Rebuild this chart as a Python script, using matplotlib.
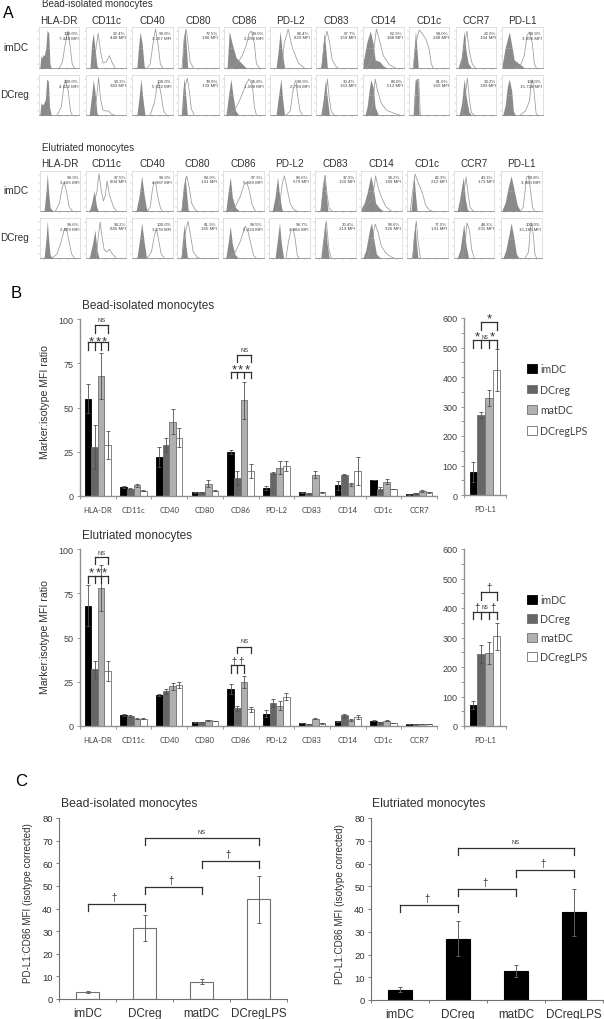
#!/usr/bin/env python3
import numpy as np
import matplotlib
matplotlib.use('Agg')
import matplotlib.pyplot as plt
from matplotlib.patches import Patch

W, H = 604, 1020
plt.rcParams['font.family'] = ['Liberation Sans', 'DejaVu Sans']

markers = ['HLA-DR', 'CD11c', 'CD40', 'CD80', 'CD86', 'PD-L2', 'CD83', 'CD14', 'CD1c', 'CCR7', 'PD-L1']
groups = ['imDC', 'DCreg', 'matDC', 'DCregLPS']
bar_colors = ['#000000', '#666666', '#b0b0b0', '#ffffff']

# panel A: percent and MFI labels
bead_im_lab = ['100.0%\n7,448 MFI', '92.4%\n448 MFI', '99.8%\n3,257 MFI', '72.5%\n180 MFI', '98.0%\n2,290 MFI', '84.4%\n829 MFI',
               '57.7%\n159 MFI', '62.9%\n388 MFI', '94.0%\n248 MFI', '23.9%\n164 MFI', '99.9%\n3,996 MFI']
bead_reg_lab = ['100.0%\n4,822 MFI', '90.3%\n383 MFI', '100.0%\n5,622 MFI', '78.9%\n139 MFI', '96.8%\n1,568 MFI', '99.9%\n2,794 MFI',
                '30.4%\n163 MFI', '88.0%\n512 MFI', '81.6%\n169 MFI', '33.2%\n183 MFI', '100.0%\n15,738 MFI']
elu_im_lab = ['99.9%\n3,565 MFI', '97.5%\n804 MFI', '99.9%\n4,987 MFI', '69.9%\n141 MFI', '97.3%\n5,689 MFI', '89.6%\n579 MFI',
              '37.5%\n155 MFI', '34.2%\n189 MFI', '82.3%\n212 MFI', '40.3%\n173 MFI', '99.8%\n3,860 MFI']
elu_reg_lab = ['99.6%\n2,829 MFI', '98.2%\n845 MFI', '100.0%\n3,578 MFI', '81.9%\n165 MFI', '99.5%\n5,434 MFI', '99.7%\n2,884 MFI',
               '30.4%\n219 MFI', '58.6%\n326 MFI', '77.5%\n141 MFI', '48.3%\n231 MFI', '100.0%\n15,185 MFI']

# panel A: histogram outlines, (x, height) as fractions of each small plot
bead_im_iso = [
    [(.02,0),(.05,.3),(.08,.25),(.1,.33),(.13,.3),(.17,.5),(.2,.92),(.24,.85),(.27,.1),(.3,0)],
    [(.1,0),(.14,.6),(.18,.85),(.22,.5),(.27,.05),(.3,0)],
    [(.12,0),(.16,.5),(.2,.88),(.25,.6),(.3,.05),(.33,0)],
    [(.1,0),(.13,.6),(.17,.95),(.2,.6),(.24,0)],
    [(.08,.05),(.13,.9),(.2,.6),(.3,.25),(.45,.1),(.55,0)],
    [(.15,0),(.2,.4),(.25,.9),(.3,.4),(.36,0)],
    [(.12,0),(.16,.4),(.2,.85),(.24,.5),(.28,0)],
    [(0,.12),(.1,.65),(.18,.9),(.25,.6),(.3,.2),(.42,.15),(.5,.05),(.6,0)],
    [(.1,0),(.13,.5),(.16,.9),(.2,.4),(.23,0)],
    [(.05,0),(.13,.25),(.2,.9),(.25,.4),(.3,.12),(.38,0)],
    [(0,.05),(.08,.5),(.18,.88),(.25,.5),(.3,.2),(.4,.12),(.5,.05),(.55,0)],
]
bead_im_stain = [
    [(.5,0),(.58,.15),(.65,.6),(.71,.9),(.76,.6),(.82,.1),(.87,0)],
    [(.18,0),(.25,.5),(.3,.85),(.36,.4),(.42,.12),(.5,.15),(.58,.3),(.65,.12),(.72,0)],
    [(.38,0),(.45,.1),(.52,.6),(.58,.95),(.64,.6),(.7,.1),(.76,0)],
    [(.1,0),(.15,.7),(.2,.95),(.25,.6),(.3,.15),(.38,0)],
    [(.1,0),(.3,.08),(.45,.3),(.55,.55),(.62,.85),(.68,.9),(.75,.6),(.8,.1),(.88,0)],
    [(.25,0),(.3,.1),(.35,.6),(.45,.95),(.55,.5),(.7,.12),(.85,0)],
    [(.14,0),(.2,.6),(.27,.9),(.33,.65),(.4,.2),(.5,.03),(.55,0)],
    [(.1,0),(.25,.3),(.3,.7),(.33,.95),(.4,.7),(.5,.3),(.65,.08),(.8,0)],
    [(.1,0),(.17,.6),(.25,.93),(.32,.85),(.42,.7),(.5,.45),(.55,.1),(.6,0)],
    [(.12,0),(.2,.5),(.27,.9),(.33,.4),(.4,.1),(.48,0)],
    [(.3,0),(.45,.05),(.55,.3),(.62,.8),(.68,.88),(.75,.6),(.8,.1),(.85,0)],
]
bead_reg_iso = [
    [(.02,0),(.05,.3),(.09,.25),(.12,.3),(.16,.4),(.19,.9),(.23,.85),(.26,.2),(.3,0)],
    [(.08,0),(.14,.5),(.18,.88),(.22,.6),(.27,.05),(.3,0)],
    [(.12,0),(.17,.4),(.22,.9),(.27,.4),(.32,0)],
    [(.08,0),(.12,.6),(.15,.92),(.19,.5),(.23,0)],
    [(.05,0),(.12,.55),(.17,.9),(.22,.5),(.28,.12),(.36,0)],
    [(.15,0),(.2,.4),(.27,.9),(.31,.4),(.36,0)],
    [(.12,0),(.18,.4),(.23,.85),(.27,.5),(.33,0)],
    [(.05,0),(.1,.2),(.15,.6),(.19,.88),(.25,.7),(.3,.2),(.38,0)],
    [(.1,0),(.14,.7),(.18,.92),(.22,.85),(.25,0)],
    [(.08,0),(.14,.3),(.2,.9),(.26,.4),(.32,.08),(.38,0)],
    [(.02,0),(.08,.25),(.13,.7),(.18,.9),(.24,.6),(.28,.1),(.33,0)],
]
bead_reg_stain = [
    [(.45,0),(.55,.2),(.62,.75),(.66,.88),(.72,.6),(.78,.1),(.82,0)],
    [(.2,0),(.27,.5),(.31,.93),(.36,.4),(.42,.12),(.5,.1),(.56,.1),(.62,.03),(.7,0)],
    [(.45,0),(.55,.3),(.62,.72),(.66,.8),(.72,.5),(.78,.1),(.85,0)],
    [(.12,0),(.17,.7),(.23,.92),(.28,.6),(.33,.15),(.4,0)],
    [(.1,0),(.25,.1),(.38,.35),(.48,.6),(.55,.78),(.62,.9),(.7,.75),(.75,.2),(.8,0)],
    [(.4,0),(.5,.1),(.56,.55),(.6,.78),(.64,.88),(.68,.5),(.74,.1),(.8,0)],
    [(.17,0),(.24,.4),(.28,.9),(.33,.4),(.38,.08),(.45,0)],
    [(.15,0),(.25,.3),(.3,.9),(.36,.6),(.45,.3),(.58,.12),(.75,.05),(.9,0)],
    [(.14,0),(.17,.85),(.24,.9),(.28,0)],
    [(.15,0),(.23,.5),(.28,.92),(.33,.4),(.38,.06),(.45,0)],
    [(.45,0),(.58,.1),(.68,.35),(.72,.8),(.76,.88),(.8,.5),(.84,.05),(.88,0)],
]
elu_im_iso = [
    [(.1,0),(.15,.5),(.18,.93),(.21,.5),(.25,.08),(.32,0)],
    [(.08,0),(.14,.2),(.2,.5),(.26,.12),(.3,0)],
    [(.1,0),(.18,.4),(.24,.88),(.3,.4),(.36,.05),(.4,0)],
    [(.1,0),(.15,.5),(.2,.88),(.24,.4),(.28,0)],
    [(.07,0),(.13,.5),(.18,.85),(.23,.35),(.3,.1),(.4,0)],
    [(.08,0),(.15,.35),(.21,.85),(.26,.4),(.32,.03),(.36,0)],
    [(.12,0),(.18,.5),(.23,.9),(.27,.5),(.32,0)],
    [(0,.05),(.08,.2),(.15,.45),(.24,.88),(.3,.6),(.36,.2),(.45,.08),(.55,0)],
    [(.1,0),(.14,.5),(.17,.9),(.21,.4),(.25,0)],
    [(.08,0),(.14,.3),(.23,.85),(.28,.3),(.33,.04),(.38,0)],
    [(.02,0),(.1,.2),(.18,.6),(.25,.88),(.32,.55),(.4,.15),(.48,0)],
]
elu_im_stain = [
    [(.38,0),(.48,.2),(.55,.6),(.6,.72),(.65,.5),(.72,.1),(.8,0)],
    [(.1,0),(.2,.15),(.27,.5),(.32,.93),(.38,.5),(.43,.25),(.48,.4),(.52,.75),(.58,.4),(.68,.1),(.75,0)],
    [(.38,0),(.45,.1),(.5,.5),(.54,.7),(.58,.72),(.63,.4),(.7,.08),(.75,0)],
    [(.12,0),(.18,.6),(.24,.88),(.3,.6),(.36,.2),(.45,.03),(.5,0)],
    [(.15,0),(.3,.1),(.42,.35),(.52,.65),(.58,.72),(.64,.55),(.72,.15),(.8,0)],
    [(.2,0),(.28,.3),(.33,.7),(.38,.88),(.44,.6),(.52,.2),(.6,.05),(.68,0)],
    [(.15,0),(.2,.6),(.25,.9),(.3,.4),(.35,.07),(.42,0)],
    [(.05,0),(.15,.15),(.28,.3),(.34,.7),(.36,.88),(.42,.6),(.5,.35),(.62,.1),(.75,0)],
    [(.08,0),(.14,.5),(.2,.92),(.28,.7),(.38,.45),(.46,.15),(.55,.02),(.62,0)],
    [(.15,0),(.25,.5),(.3,.85),(.35,.4),(.4,.08),(.48,0)],
    [(.48,0),(.55,.1),(.6,.55),(.63,.85),(.68,.88),(.73,.5),(.78,.08),(.83,0)],
]
elu_reg_iso = [
    [(.1,0),(.15,.5),(.18,.93),(.21,.5),(.25,.08),(.3,0)],
    [(.08,0),(.16,.35),(.22,.7),(.27,.2),(.32,0)],
    [(.12,0),(.18,.4),(.24,.88),(.3,.4),(.36,0)],
    [(.1,0),(.14,.5),(.18,.85),(.22,.3),(.26,0)],
    [(.07,0),(.13,.4),(.18,.8),(.23,.35),(.3,.08),(.38,0)],
    [(.15,0),(.2,.4),(.26,.88),(.3,.4),(.36,0)],
    [(.14,0),(.2,.5),(.25,.92),(.3,.35),(.35,0)],
    [(.05,0),(.12,.2),(.22,.75),(.26,.88),(.32,.45),(.38,.1),(.48,0)],
    [(.12,0),(.16,.5),(.2,.9),(.23,.4),(.27,0)],
    [(.08,0),(.15,.2),(.24,.85),(.3,.3),(.36,0)],
    [(.05,0),(.12,.2),(.2,.6),(.25,.88),(.31,.55),(.38,.1),(.44,0)],
]
elu_reg_stain = [
    [(.3,0),(.42,.1),(.52,.4),(.6,.72),(.65,.75),(.7,.5),(.78,.1),(.85,0)],
    [(.25,0),(.3,.5),(.35,.9),(.4,.5),(.45,.2),(.52,.15),(.58,.22),(.65,.1),(.75,0)],
    [(.38,0),(.48,.15),(.55,.55),(.6,.72),(.65,.5),(.72,.1),(.8,0)],
    [(.12,0),(.2,.6),(.27,.92),(.33,.6),(.4,.15),(.5,.02),(.55,0)],
    [(.12,0),(.28,.1),(.42,.4),(.5,.65),(.55,.8),(.62,.65),(.7,.3),(.76,.05),(.82,0)],
    [(.42,0),(.48,.4),(.55,.72),(.6,.72),(.65,.45),(.7,.05),(.75,0)],
    [(.18,0),(.24,.6),(.28,.92),(.34,.25),(.4,0)],
    [(.15,0),(.25,.25),(.32,.7),(.35,.85),(.42,.65),(.5,.3),(.62,.12),(.75,.02),(.82,0)],
    [(.14,0),(.18,.5),(.23,.92),(.27,.45),(.33,0)],
    [(.2,0),(.28,.4),(.32,.88),(.38,.7),(.44,.2),(.5,0)],
    [(.6,0),(.68,.15),(.72,.7),(.76,.88),(.8,.55),(.84,.08),(.88,0)],
]

# panel B: marker:isotype MFI ratio, one row per marker, columns follow groups
bead_ratio = [[55, 27.5, 68, 29], [5, 4, 6, 3], [22, 29, 42, 33], [2, 2, 7, 3], [25, 10, 54, 14],
              [4.5, 13, 16, 17], [2, 1.5, 12, 2], [6, 12, 6.5, 14], [9, 4, 8, 4], [1, 1.5, 3, 2]]
bead_ratio_err = [[8, 12.5, 13, 8], [.4, .3, 1, .2], [5.5, 4, 7, 5.5], [.2, .2, 2, .2], [1, 4, 10.5, 4],
                  [1, .5, 3.5, 3], [.2, .2, 2, .2], [2.5, .2, .8, 8], [.2, 1, 1.5, .2], [.2, .2, .5, .2]]
bead_pdl1 = [78, 270, 330, 424]
bead_pdl1_err = [35, 10, 27, 70]

elu_ratio = [[68, 32, 78, 31], [6, 5.5, 4.2, 4], [17.5, 19.5, 22.5, 23], [2, 2.2, 3.2, 2.8], [21, 10, 25, 9.5],
             [7, 13, 11.5, 16.5], [1.7, 1.3, 4, 1.5], [2.7, 6, 3.5, 5], [3, 2, 3, 1.8], [1.2, 1.2, 1.3, 1.2]]
elu_ratio_err = [[11.5, 5, 13, 5.5], [.5, .5, .3, .3], [.8, 1.5, 2, 1.8], [.1, .1, .2, .2], [3, 1.5, 3.5, 1.5],
                 [2, 2, 2.5, 2], [.1, .1, .3, .1], [.2, 1, .5, 1], [.2, .1, .2, .1], [.1, .1, .1, .1]]
elu_pdl1 = [71, 244, 247, 304]
elu_pdl1_err = [13, 32, 38, 45]

# panel C: PD-L1:CD86 MFI
bead_c = [3.2, 31.3, 7.7, 44]
bead_c_err = [.4, 5.8, 1, 10.3]
elu_c = [4.5, 27, 12.8, 38.5]
elu_c_err = [1.2, 7.7, 2.7, 10.5]

DAG = '\u2020'
fig = plt.figure(figsize=(W / 100, H / 100), dpi=100)


def axpx(l, t, r, b):
    return fig.add_axes([l / W, 1 - b / H, (r - l) / W, (b - t) / H])


def txt(x, y, s, size, ha='left', color='#303030', **kw):
    fig.text(x / W, 1 - y / H, s, fontsize=size, ha=ha, va='center', color=color, **kw)


def flow(l, t, r, b, iso, stain, label):
    ax = axpx(l, t, r, b)
    ix, iy = zip(*iso)
    sx, sy = zip(*stain)
    ax.fill_between(ix, iy, color='#8a8a8a', lw=0)
    ax.plot(sx, sy, color='#9a9a9a', lw=.55)
    ax.plot([.1, 1], [.5, .5], color='#d8d8d8', lw=.4, ls=':')
    ax.set_xlim(0, 1)
    ax.set_ylim(0, 1)
    ax.set_xticks([.1, .3, .5, .7, .9])
    ax.set_yticks([.1, .3, .5, .7, .9])
    ax.tick_params(length=1.2, width=.3, color='#aaaaaa', labelbottom=False, labelleft=False)
    for s in ['top', 'right', 'left']:
        ax.spines[s].set_color('#c8c8c8')
        ax.spines[s].set_linewidth(.4)
    ax.spines['bottom'].set_color('#777777')
    ax.spines['bottom'].set_linewidth(.5)
    ax.text(.98, .8, label, transform=ax.transAxes, fontsize=3.2, ha='right', va='center', color='#404040', linespacing=1.1)


def flow_block(xl, rows, head_y, label_y):
    for i, m in enumerate(markers):
        l = xl[i]
        txt(l + 20, head_y, m, 7.2, ha='center')
        for (t, b, iso, stain, lab) in rows:
            flow(l, t, l + 40.5, b, iso[i], stain[i], lab[i])
    txt(29, label_y[0], 'imDC', 7.2, ha='right')
    txt(29, label_y[1], 'DCreg', 7.2, ha='right')


def bracket(ax, x0, x1, top, bottom, teeth=None, lw=.9):
    xs = teeth if teeth is not None else [x0, x1]
    ax.plot([x0, x1], [top, top], color='#303030', lw=lw, solid_capstyle='projecting', clip_on=False)
    for x in xs:
        ax.plot([x, x], [top, bottom], color='#303030', lw=lw, clip_on=False)


def mark(ax, x, y, s, size=7):
    ax.text(x, y, s, fontsize=size, ha='center', va='center', color='#303030', clip_on=False)


def bars_b(ax, vals, errs, w=.185):
    vals = np.array(vals)
    errs = np.array(errs)
    x = np.arange(vals.shape[0])
    centers = []
    for j in range(4):
        off = (j - 1.5) * w
        ax.bar(x + off, vals[:, j], w, color=bar_colors[j], edgecolor='#707070' if j else '#000000', lw=.6)
        ax.errorbar(x + off, vals[:, j], yerr=errs[:, j], fmt='none', ecolor='#505050', elinewidth=.6, capsize=1.4, capthick=.6)
        centers.append(x + off)
    return np.array(centers).T


def style_b(ax, labels, ymax, major, minor=None):
    n = len(labels)
    ax.set_xlim(-.5, n - .5)
    ax.set_ylim(0, ymax)
    ax.set_yticks(np.arange(0, ymax + 1, major))
    if minor:
        ax.set_yticks(np.arange(0, ymax + 1, minor), minor=True)
    ax.set_xticks(np.arange(n + 1) - .5)
    ax.set_xticklabels([])
    ax.set_xticks(np.arange(n), minor=True)
    ax.set_xticklabels(labels, minor=True, fontsize=5.6, color='#404040', family=['Lato', 'DejaVu Sans'])
    ax.tick_params(axis='x', which='minor', length=0, pad=7)
    ax.tick_params(axis='x', which='major', length=2.5, width=.6, color='#888888')
    ax.tick_params(axis='y', which='both', length=2.5, width=.6, color='#888888', labelsize=6.5, labelcolor='#404040', pad=2)
    for s in ['top', 'right']:
        ax.spines[s].set_visible(False)
    for s in ['left', 'bottom']:
        ax.spines[s].set_color('#909090')
        ax.spines[s].set_linewidth(1.0)


def comb(ax, c, top, bottom, up_top, up_bottom, up_y, up_label, signs, sign_y, n_teeth=4):
    bracket(ax, c[0], c[n_teeth - 1], top, bottom, teeth=c[:n_teeth])
    bracket(ax, c[1], c[3], up_top, up_bottom)
    if up_label == 'NS':
        mark(ax, (c[1] + c[3]) / 2 + .02, up_y, 'NS', size=4.2)
    else:
        mark(ax, (c[1] + c[3]) / 2, up_y, up_label, size=9.5 if up_label == '*' else 7)
    for i, s in enumerate(signs):
        if s == 'NS':
            mark(ax, (c[i] + c[i + 1]) / 2, sign_y, s, size=3.6)
        else:
            mark(ax, (c[i] + c[i + 1]) / 2, sign_y, s, size=9.5 if s == '*' else 7)


# ---- panel A
txt(3, 13, 'A', 11.5, color='black')
txt(42, 4, 'Bead-isolated monocytes', 7.1)
bead_x = [39, 86, 132, 178, 224, 270, 316, 363, 409, 456, 502]
flow_block(bead_x, [(28, 69, bead_im_iso, bead_im_stain, bead_im_lab),
                    (76, 116, bead_reg_iso, bead_reg_stain, bead_reg_lab)], 21, (48, 95))
txt(42, 148, 'Elutriated monocytes', 7.1)
elu_x = [40, 86, 132, 177, 223, 269, 315, 361, 407, 454, 501]
flow_block(elu_x, [(172, 212, elu_im_iso, elu_im_stain, elu_im_lab),
                   (219, 259, elu_reg_iso, elu_reg_stain, elu_reg_lab)], 164, (191, 238))

# ---- panel B
txt(11, 294, 'B', 12, color='black')
txt(82, 306, 'Bead-isolated monocytes', 8.5)
ax = axpx(80, 320, 437, 497)
c = bars_b(ax, bead_ratio, bead_ratio_err)
style_b(ax, markers[:10], 100, 25)
ax.set_ylabel('Marker:isotype MFI ratio', fontsize=7.6, color='#303030', labelpad=6, y=.535)
comb(ax, c[0], 86.8, 82.6, 96.6, 92, 99.8, 'NS', ['*', '*', '*'], 87.5)
comb(ax, c[4], 70.2, 66.4, 79.8, 75.5, 82.6, 'NS', ['*', '*', '*'], 71.5)

ax = axpx(464, 319, 506, 496)
c = bars_b(ax, [bead_pdl1], [bead_pdl1_err], w=.183)
style_b(ax, ['PD-L1'], 600, 100, 50)
comb(ax, c[0], 524, 498, 585, 558, 597, '*', ['*', 'NS', '*'], 536)

leg_handles = [Patch(facecolor=col, edgecolor='#707070' if i else '#000000', lw=.6, label=g)
               for i, (g, col) in enumerate(zip(groups, bar_colors))]
fig.legend(handles=leg_handles, loc='upper left', bbox_to_anchor=(527 / W, 1 - 364 / H), frameon=False,
           prop={'family': ['Lato', 'DejaVu Sans'], 'size': 7.6}, handlelength=.9, handleheight=.9, handletextpad=.35,
           labelspacing=.92, labelcolor='#404040', borderpad=0, borderaxespad=0)

txt(82, 536, 'Elutriated monocytes', 8.5)
ax = axpx(80, 550, 437, 727)
c = bars_b(ax, elu_ratio, elu_ratio_err)
style_b(ax, markers[:10], 100, 25)
ax.set_ylabel('Marker:isotype MFI ratio', fontsize=7.6, color='#303030', labelpad=6, y=.51)
comb(ax, c[0], 84.9, 81, 95.3, 91.5, 98, 'NS', ['*', '*', '*'], 86.5)
comb(ax, c[4], 34.3, 30, 44.9, 41, 48.5, 'NS', [DAG, DAG], 36.8, n_teeth=3)

ax = axpx(464, 550, 506, 727)
c = bars_b(ax, [elu_pdl1], [elu_pdl1_err], w=.183)
style_b(ax, ['PD-L1'], 600, 100, 50)
comb(ax, c[0], 388, 364, 455, 428, 470, DAG, [DAG, 'NS', DAG], 404)

fig.legend(handles=leg_handles, loc='upper left', bbox_to_anchor=(527 / W, 1 - 595 / H), frameon=False,
           prop={'family': ['Lato', 'DejaVu Sans'], 'size': 7.6}, handlelength=.9, handleheight=.9, handletextpad=.35,
           labelspacing=.76, labelcolor='#404040', borderpad=0, borderaxespad=0)


# ---- panel C
def panel_c(l, t, r, b, vals, errs, color, edge, spans, title, title_x):
    ax = axpx(l, t, r, b)
    x = np.arange(4)
    ax.bar(x, vals, .41, color=color, edgecolor=edge, lw=.8)
    ax.errorbar(x, vals, yerr=errs, fmt='none', ecolor='#606060', elinewidth=.7, capsize=1.6, capthick=.7)
    ax.set_xlim(-.5, 3.5)
    ax.set_ylim(0, 80)
    ax.set_yticks(np.arange(0, 81, 10))
    ax.set_xticks(np.arange(5) - .5)
    ax.set_xticklabels([])
    ax.set_xticks(x, minor=True)
    ax.set_xticklabels(groups, minor=True, fontsize=8.4, color='#303030')
    ax.tick_params(axis='x', which='minor', length=0, pad=5.5)
    ax.tick_params(axis='x', which='major', length=2.5, width=.6, color='#666666')
    ax.tick_params(axis='y', length=2.5, width=.6, color='#666666', labelsize=6.8, labelcolor='#303030', pad=2)
    for s in ['top', 'right']:
        ax.spines[s].set_visible(False)
    for s in ['left', 'bottom']:
        ax.spines[s].set_color('#707070')
        ax.spines[s].set_linewidth(.8)
    ax.set_ylabel('PD-L1:CD86 MFI (isotype corrected)', fontsize=7.1, color='#303030', labelpad=6.3, y=.535)
    for (a, e, top, s) in spans:
        bracket(ax, a, e, top, top - 3.3)
        if s == 'NS':
            mark(ax, (a + e) / 2, top + 2.7, s, size=4.2)
        else:
            mark(ax, (a + e) / 2 - .03, top + 3, s, size=7)
    txt(title_x, t - 15, title, 8.7)


txt(15, 781, 'C', 12, color='black')
panel_c(59, 819, 287, 1000, bead_c, bead_c_err, 'white', '#707070',
        [(0, 1, 42, DAG), (1, 2, 49.5, DAG), (2, 3, 61, DAG), (1, 3, 71.3, 'NS')], 'Bead-isolated monocytes', 60.7)
panel_c(371, 819, 603, 1001, elu_c, elu_c_err, 'black', 'black',
        [(0, 1, 41.8, DAG), (1, 2, 48.8, DAG), (2, 3, 57.3, DAG), (1, 3, 67, 'NS')], 'Elutriated monocytes', 372)

fig.savefig('out.png', dpi=100)
